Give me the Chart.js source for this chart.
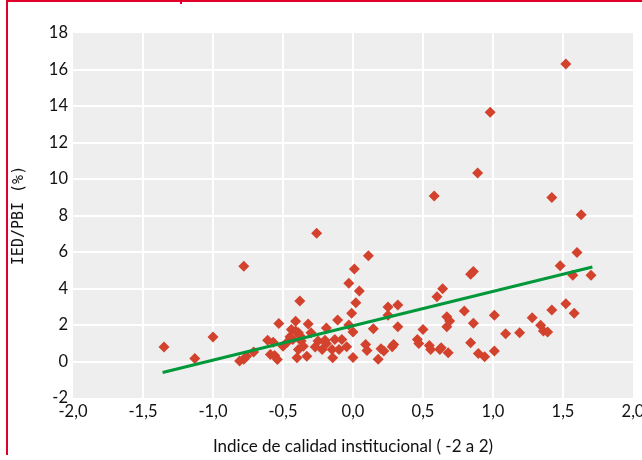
<!DOCTYPE html>
<html>
<head>
<meta charset="utf-8">
<script src="https://cdn.jsdelivr.net/npm/chart.js@4"></script>
<style>
  html, body { margin: 0; padding: 0; background: #fff; }
  #wrap { position: relative; width: 642px; height: 460px; }
  #frame { position: absolute; left: 6px; top: 0; width: 636px; height: 455px;
           border-left: 2px solid #e1002a; border-top: 2px solid #e1002a; box-sizing: border-box; }
  #notch { position: absolute; left: 180px; top: 0; width: 2px; height: 4px; background: #e1002a; }
  canvas { position: absolute; left: 0; top: 0; }
</style>
</head>
<body>
<div id="wrap">
  <canvas id="scatterChart" width="642" height="460"></canvas>
  <div id="frame"></div>
  <div id="notch"></div>
</div>
<script>
// indice de calidad institucional (x) vs IED/PBI % (y)
const calidad = [
  -1.35, -1.13, -1.00, -0.78, -0.81, -0.78, -0.76, -0.71, -0.61, -0.57,
  -0.59, -0.56, -0.54, -0.53, -0.50, -0.47, -0.45, -0.44, -0.43, -0.41,
  -0.38, -0.38, -0.39, -0.40, -0.355, -0.33, -0.32, -0.30, -0.27, -0.25,
  -0.22, -0.19, -0.19, -0.145, -0.15, -0.13, -0.11, -0.10, -0.08, -0.045,
  -0.03, 0.00, -0.01, 0.00, 0.02, 0.045, 0.01, -0.03, 0.11, -0.26,
  0.145, 0.18, 0.09, 0.10, 0.20, 0.22, 0.28, 0.29, 0.25, 0.32,
  0.25, 0.32, -0.20, -0.37, -0.41, -0.39, 0.50, 0.46, 0.47, 0.545,
  0.555, 0.62, 0.60, 0.64, 0.58, 0.795, 0.67, 0.69, 0.67, 0.86,
  1.01, 0.63, 0.68, 0.84, 0.895, 0.94, 1.01, 1.09, 1.19, 1.28,
  1.34, 1.36, 1.39, 1.42, 1.52, 1.58, 1.60, 1.48, 1.57, 1.70,
  0.86, 0.84, 0.98, 0.89, 1.42, 1.63, 1.52
];
const iedPbi = [
  0.79, 0.17, 1.34, 5.22, 0.03, 0.12, 0.29, 0.52, 1.17, 1.06,
  0.38, 0.33, 0.11, 2.08, 0.84, 1.06, 1.36, 1.76, 1.21, 2.21,
  3.31, 1.43, 0.66, 0.20, 0.84, 0.29, 2.05, 1.57, 0.79, 1.12,
  0.66, 1.84, 0.99, 0.20, 0.66, 1.21, 2.27, 0.66, 1.21, 0.81,
  2.00, 1.61, 2.64, 0.22, 3.22, 3.86, 5.07, 4.29, 5.79, 7.03,
  1.79, 0.13, 0.93, 0.60, 0.70, 0.58, 0.81, 0.93, 2.98, 3.09,
  2.53, 1.90, 1.17, 1.12, 1.67, 1.57, 1.76, 1.21, 0.99, 0.88,
  0.66, 0.66, 3.55, 3.99, 9.07, 2.77, 2.45, 2.22, 1.90, 2.09,
  2.53, 0.75, 0.48, 1.03, 0.44, 0.26, 0.57, 1.52, 1.57, 2.40,
  1.98, 1.67, 1.61, 2.82, 3.17, 2.64, 5.97, 5.24, 4.72, 4.72,
  4.93, 4.78, 13.66, 10.33, 8.99, 8.04, 16.3
];

// tendencia lineal (extremos)
const trendX = [-1.36, 1.71];
const trendY = [-0.60, 5.18];

const xTicks = [-2, -1.5, -1, -0.5, 0, 0.5, 1, 1.5, 2];
const yTicks = [-2, 0, 2, 4, 6, 8, 10, 12, 14, 16, 18];

const points = calidad.map((x, i) => ({ x: x, y: iedPbi[i] }));
const trend = trendX.map((x, i) => ({ x: x, y: trendY[i] }));

const plotBg = {
  id: "plotBg",
  beforeDraw(chart) {
    const a = chart.chartArea;
    const c = chart.ctx;
    c.save();
    c.fillStyle = "#eeeeee";
    c.fillRect(a.left, a.top, a.right - a.left, a.bottom - a.top);
    c.restore();
  }
};

const edgeless = (list) => (ctx) => {
  const v = ctx.tick ? ctx.tick.value : null;
  return (v === list[0] || v === list[list.length - 1]) ? "rgba(0,0,0,0)" : "#ffffff";
};

new Chart(document.getElementById("scatterChart").getContext("2d"), {
  type: "scatter",
  data: {
    datasets: [
      {
        label: "Tendencia",
        data: trend,
        showLine: true,
        borderColor: "#00983a",
        borderWidth: 3,
        pointRadius: 0,
        fill: false,
        order: 0
      },
      {
        label: "Paises",
        data: points,
        pointStyle: "rectRot",
        pointRadius: 5.5,
        pointBackgroundColor: "#d2422d",
        pointBorderWidth: 0,
        order: 1
      }
    ]
  },
  options: {
    responsive: false,
    animation: false,
    events: [],
    layout: { padding: { left: 0, right: 9, top: 33, bottom: 0 } },
    plugins: { legend: { display: false }, tooltip: { enabled: false } },
    scales: {
      x: {
        min: -2,
        max: 2,
        afterBuildTicks: (s) => { s.ticks = xTicks.map(v => ({ value: v })); },
        afterFit: (s) => { s.height = 62; s.paddingLeft = 0; s.paddingRight = 0; },
        border: { display: false },
        grid: { color: edgeless(xTicks), lineWidth: 2, drawTicks: false },
        ticks: {
          padding: 4,
          maxRotation: 0,
          autoSkip: false,
          color: "#111",
          font: { family: "Lato", size: 16.5 },
          callback: (v) => v.toFixed(1).replace(".", ",")
        },
        title: {
          display: true,
          text: "Indice de calidad institucional ( -2 a 2)",
          color: "#111",
          font: { family: "Lato", size: 17 },
          padding: { top: 0, bottom: 3 }
        }
      },
      y: {
        min: -2,
        max: 18,
        afterBuildTicks: (s) => { s.ticks = yTicks.map(v => ({ value: v })); },
        afterFit: (s) => { s.width = 73; },
        border: { display: false },
        grid: { color: edgeless(yTicks), lineWidth: 2, drawTicks: false },
        ticks: {
          padding: 5,
          color: "#111",
          font: { family: "Lato", size: 16.5 }
        },
        title: {
          display: true,
          text: "IED/PBI (%)",
          color: "#111",
          font: { family: "DejaVu Sans Mono", size: 15 },
          padding: { top: 10, bottom: 0 }
        }
      }
    }
  },
  plugins: [plotBg]
});
</script>
</body>
</html>
